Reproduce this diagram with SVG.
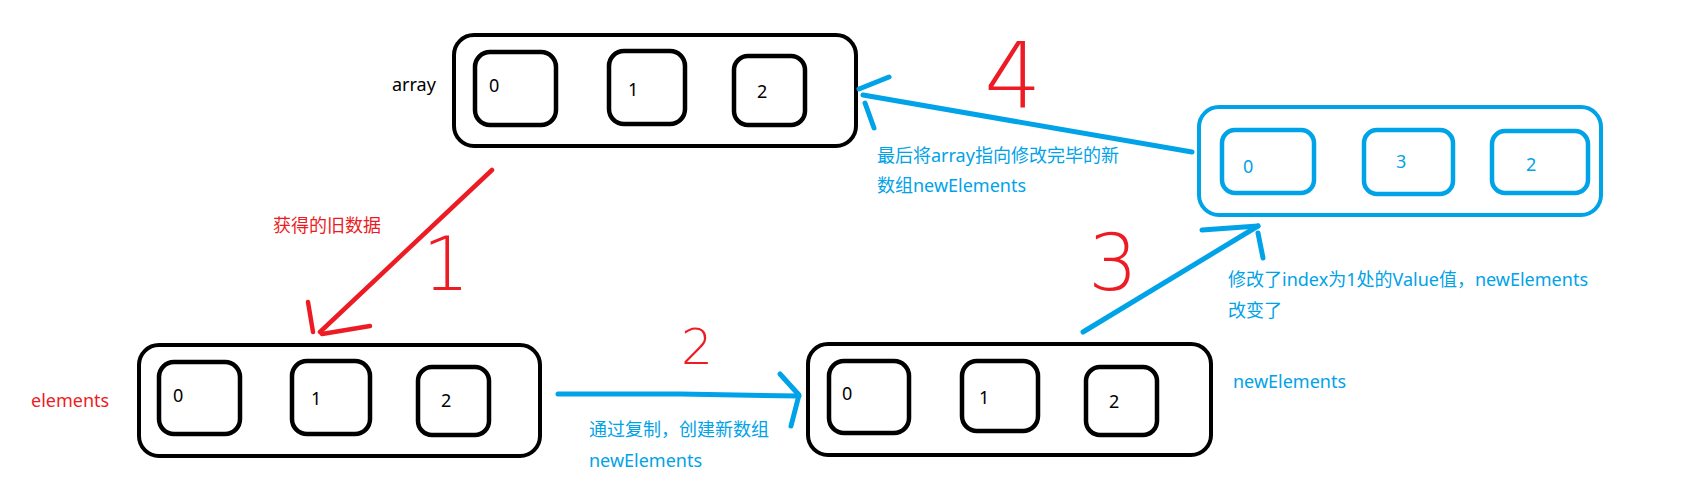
<svg xmlns="http://www.w3.org/2000/svg" width="1683" height="501" viewBox="0 0 1683 501">
<style>
text{font-family:"Noto Sans","Noto Sans CJK SC",sans-serif;font-size:18px}
.k{fill:#000}
.r{fill:#ED1C24}
.b{fill:#00A2E8}
.ob{fill:none;stroke:#000;stroke-width:4}
.ib{fill:none;stroke:#000;stroke-width:4.5}
.obb{fill:none;stroke:#00A2E8;stroke-width:4}
.ibb{fill:none;stroke:#00A2E8;stroke-width:4.5}
.lr{fill:none;stroke:#ED1C24;stroke-width:4.5;stroke-linecap:round;stroke-linejoin:round}
.lb{fill:none;stroke:#00A2E8;stroke-width:5;stroke-linecap:round;stroke-linejoin:round}
text.hw{font-family:"DejaVu Sans","Liberation Sans",sans-serif;font-weight:200;fill:#ED1C24;text-anchor:middle}
</style>
<rect width="1683" height="501" fill="#fff"/>
<g id="array">
<text class="k" x="392" y="91">array</text>
<rect class="ob" x="454" y="35" width="402" height="111" rx="20"/>
<rect class="ib" x="475" y="52" width="81" height="73" rx="15"/>
<rect class="ib" x="609" y="51" width="76" height="73" rx="15"/>
<rect class="ib" x="734" y="56" width="71" height="69" rx="14"/>
<text class="k" x="489" y="92">0</text>
<text class="k" x="628" y="96">1</text>
<text class="k" x="757" y="98">2</text>
</g>
<g id="elements">
<text class="r" x="31" y="407">elements</text>
<rect class="ob" x="139" y="345" width="401" height="111" rx="20"/>
<rect class="ib" x="159" y="362" width="81" height="72" rx="15"/>
<rect class="ib" x="292" y="361" width="78" height="73" rx="15"/>
<rect class="ib" x="418" y="367" width="71" height="68" rx="14"/>
<text class="k" x="173" y="402">0</text>
<text class="k" x="311" y="405">1</text>
<text class="k" x="441" y="407">2</text>
</g>
<g id="newElements-copy">
<rect class="ob" x="808" y="344" width="403" height="111" rx="20"/>
<rect class="ib" x="829" y="361" width="80" height="72" rx="15"/>
<rect class="ib" x="962" y="361" width="76" height="70" rx="15"/>
<rect class="ib" x="1086" y="367" width="71" height="68" rx="14"/>
<text class="k" x="842" y="400">0</text>
<text class="k" x="979" y="404">1</text>
<text class="k" x="1109" y="408">2</text>
<text class="b" x="1233" y="388">newElements</text>
</g>
<g id="newElements-modified">
<rect class="obb" x="1199" y="107" width="402" height="108" rx="20"/>
<rect class="ibb" x="1222" y="130" width="92" height="63" rx="13"/>
<rect class="ibb" x="1364" y="130" width="89" height="64" rx="13"/>
<rect class="ibb" x="1492" y="131" width="96" height="62" rx="13"/>
<text class="b" x="1243" y="173">0</text>
<text class="b" x="1396" y="168">3</text>
<text class="b" x="1526" y="171">2</text>
</g>
<g id="connectors">
<path class="lr" d="M492,170 L320,332"/>
<path class="lr" d="M308,302 L313,332 M322,334 L370,326"/>
<path class="lb" d="M558,394 L680,394 L799,396"/>
<path class="lb" d="M780,374 L799,395 L791,426"/>
<path class="lb" d="M1083,332 L1258,226"/>
<path class="lb" d="M1202,230 L1258,226 M1258,233 L1263,258"/>
<path class="lb" d="M1192,152 L863,95"/>
<path class="lb" d="M859,89 L889,77 M865,103 L874,128"/>
</g>
<g id="labels">
<text class="r" x="273" y="232">获得的旧数据</text>
<text class="b" x="877" y="162">最后将array指向修改完毕的新</text>
<text class="b" x="877" y="192">数组newElements</text>
<text class="b" x="589" y="436">通过复制，创建新数组</text>
<text class="b" x="589" y="467">newElements</text>
<text class="b" x="1228" y="286">修改了index为1处的Value值，newElements</text>
<text class="b" x="1228" y="317">改变了</text>
<text class="hw" x="446" y="290" style="font-size:74px">1</text>
<text class="hw" x="697" y="364" style="font-size:50px">2</text>
<text class="hw" x="1113" y="290" style="font-size:78px">3</text>
<text class="hw" x="1013" y="108" style="font-size:90px">4</text>
</g>
</svg>
